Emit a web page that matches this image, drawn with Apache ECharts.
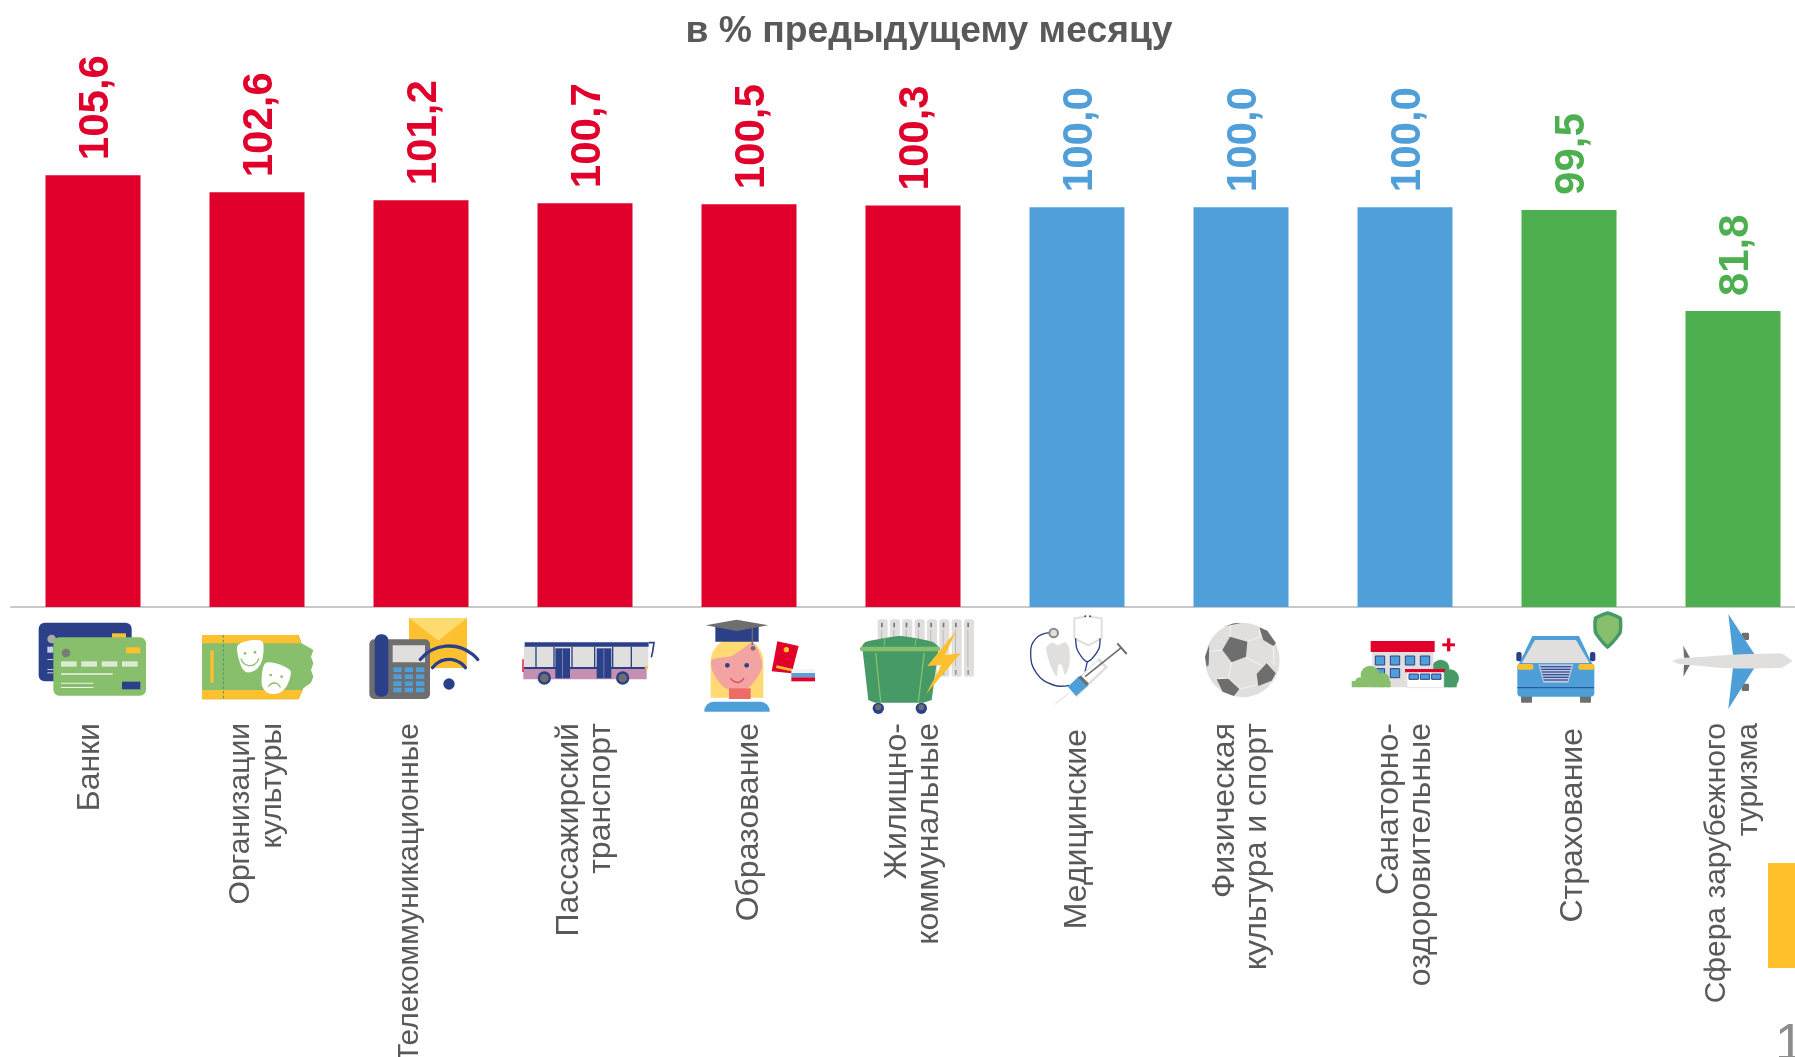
<!DOCTYPE html>
<html><head><meta charset="utf-8">
<style>html,body{margin:0;padding:0;background:#fff;overflow:hidden}#c{width:1795px;height:1057px}</style>
<script src="https://cdn.jsdelivr.net/npm/echarts@6/dist/echarts.min.js"></script>
</head><body><div id="c"></div>
<script>
const categories=['Банки','Организации\nкультуры','Телекоммуникационные','Пассажирский\nтранспорт','Образование','Жилищно-\nкоммунальные','Медицинские','Физическая\nкультура и спорт','Санаторно-\nоздоровительные','Страхование','Сфера зарубежного\nтуризма'];
const values=[105.6,102.6,101.2,100.7,100.5,100.3,100.0,100.0,100.0,99.5,81.8];
const colors=['#E1002B','#E1002B','#E1002B','#E1002B','#E1002B','#E1002B','#519FD8','#519FD8','#519FD8','#4EAF50','#4EAF50'];
const labelSizes=[32,30,30,32,32,32,32,32,32,32,30];
const labelPads=[[0,0,0,0],[0,0,0,0],[0,0,0,0],[0,0,0,0],[0,0,0,0],[0,0,0,0],[0,6,0,0],[0,0,0,0],[0,0,0,0],[0,5,0,0],[0,0,0,0]];
const labelNudges=[{verticalAlign:'bottom',lineHeight:5},{},{verticalAlign:'bottom',lineHeight:23},{},{},{},{},{},{},{verticalAlign:'top',lineHeight:9},{}];

const NAVY='#2B4089',GRN='#88BF6D',DGRN='#469A65',YEL='#FDC02F',GRY='#6E6E6E',LGR='#E0DFDD',BLU='#4E9FD8',RED='#E1002B',WHT='#FFFFFF';
const R=(x,y,w,h,c,r,st)=>({type:'rect',shape:{x,y,width:w,height:h,r:r||0},style:{fill:c,stroke:st||null,lineWidth:st?3:0}});
const C=(cx,cy,r,c)=>({type:'circle',shape:{cx,cy,r},style:{fill:c}});
const P=(pts,c,sm)=>({type:'polygon',shape:{points:pts,smooth:sm||0},style:{fill:c}});
const L=(pts,c,w,sm,dash)=>({type:'polyline',shape:{points:pts,smooth:sm||0},style:{fill:null,stroke:c,lineWidth:w,lineDash:dash||null}});
const A=(cx,cy,r,s,e,c,w,cw)=>({type:'arc',shape:{cx,cy,r,startAngle:s,endAngle:e,clockwise:cw!==false},style:{fill:null,stroke:c,lineWidth:w,lineCap:'round'}});
const PI=Math.PI;
const grp=(x,y,children)=>({type:'group',x,y,scaleX:1/3,scaleY:1/3,silent:true,children});

const iconCards=[R(26,38,279,176,NAVY,18),R(246,70,42,15,YEL),C(65,87,13,'#A9A9A9'),R(52,110,18,18,'#C9D0E3'),R(52,147,18,3,'#C9D0E3'),R(52,177,18,3,'#C9D0E3'),R(52,187,18,3,'#C9D0E3'),
 R(70,82,278,175,GRN,18),R(288,112,43,18,YEL),C(108,129,13,'#7A7A7A'),R(93,154,47,16,'#DCEAD2'),R(154,154,47,16,'#DCEAD2'),R(215,154,47,16,'#DCEAD2'),R(276,154,47,16,'#DCEAD2'),R(93,190,155,4,'#EDF3E8'),R(93,218,97,3,'#EDF3E8'),R(93,231,97,3,'#EDF3E8'),R(276,215,55,23,NAVY)];
const iconTicket=[P([[516,75],[806,75],[815,100],[850,120],[843,140],[850,160],[843,180],[850,200],[843,218],[820,235],[806,268],[516,268]],GRN),
 P([[516,75],[806,75],[813,100],[516,100]],YEL),P([[516,240],[818,240],[806,268],[516,268]],YEL),L([[580,75],[580,268]],DGRN,3,0,[8,6]),R(541,122,10,96,YEL),
 P([[624,105],[695,93],[698,145],[680,178],[650,187],[632,165]],WHT,0.3),C(645,130,4,GRN),C(675,127,4,GRN),A(660,140,27,0.25,PI-0.25,GRN,4),
 P([[708,158],[780,180],[772,225],[745,250],[712,248],[695,222]],WHT,0.3),C(722,195,4,GRN),C(755,200,4,GRN),A(733,238,19,PI+0.5,-0.4,GRN,4)];
const iconPhone=[R(1137,24,174,150,YEL),P([[1137,24],[1311,24],[1225,92]],'#FEDB6E'),R(1018,88,182,179,GRY,15),R(1034,73,41,187,NAVY,18),R(1088,106,97,51,LGR),
 ...[172,193,214,233].flatMap(y=>[1090,1124,1158].map(x=>R(x,y,25,14,BLU))),
 A(1257,220,112,-PI*0.78,-PI*0.22,NAVY,10),A(1257,209,61,-PI*0.8,-PI*0.2,NAVY,10),C(1257,222,17,NAVY)];
const iconBus=[R(42,108,373,66,LGR),R(44,97,372,13,NAVY),R(40,176,370,32,'#C48FB0'),R(42,171,370,6,NAVY),R(37,148,4,38,RED),
 R(76,110,4,62,NAVY),R(130,110,4,62,NAVY),R(184,110,4,62,NAVY),R(252,110,4,62,NAVY),R(306,110,4,62,NAVY),R(362,110,4,62,NAVY),
 R(136,115,44,90,NAVY),R(260,115,44,90,NAVY),R(156,118,3,85,'#6F7FB0'),R(280,118,3,85,'#6F7FB0'),
 C(103,204,20,NAVY),C(103,204,13,GRY),C(338,204,20,NAVY),C(338,204,13,GRY),L([[416,98],[432,98],[428,125],[424,142]],NAVY,5),C(409,173,5,YEL)];
const iconStudent=[R(602,85,158,178,'#FFD971',[70,70,0,0]),
 P([[605,150],[665,138],[700,115],[730,98],[755,150],[755,178],[722,228],[680,245],[640,230],[610,190]],'#F4A3A3',0.25),
 R(657,235,65,32,'#EE6B66'),R(583,275,196,30,BLU,[28,28,0,0]),R(616,50,130,45,NAVY),P([[587,46],[680,29],[775,46],[680,63]],GRY),L([[727,55],[727,105]],GRY,4),C(729,115,7,GRY),
 C(652,166,7,NAVY),C(710,166,7,NAVY),A(682,195,22,0.5,PI-0.5,'#E5404F',4),
 P([[802,94],[866,108],[845,190],[785,184]],RED),C(829,119,8,YEL),P([[800,166],[846,176],[844,184],[798,174]],YEL),
 R(844,177,71,12,'#F4F4F4'),R(844,189,71,13,'#5AA2DC'),R(844,202,71,12,RED)];
const iconBin=[...[0,1,2,3,4,5,6,7].map(i=>R(1103+i*37,28,30,172,LGR,8)),...[0,1,2,3,4,5,6,7].map(i=>R(1113+i*37,38,5,14,'#777')),...[0,1,2,3,4,5,6,7].map(i=>R(1113+i*37,180,5,14,'#999')),...[0,1,2,3,4,5,6,7].map(i=>R(1113+i*37,60,3,110,'#BBB')),
 P([[1058,122],[1285,122],[1265,270],[1240,278],[1095,278],[1075,270]],DGRN),P([[1055,115],[1065,97],[1120,85],[1170,78],[1220,85],[1270,97],[1288,115]],DGRN,0.2),
 R(1050,110,240,14,GRN,6),L([[1122,108],[1125,85]],GRN,3),L([[1215,108],[1218,85]],GRN,3),L([[1097,128],[1112,275]],GRN,4),L([[1243,128],[1225,275]],GRN,4),
 C(1105,295,17,NAVY),C(1105,292,9,GRY),C(1234,295,17,NAVY),C(1234,292,9,GRY),
 P([[1340,60],[1252,168],[1295,165],[1248,252],[1352,130],[1305,135]],YEL)];
const iconMed=[P([[108,115],[125,98],[145,105],[165,96],[178,115],[178,165],[165,195],[155,165],[145,165],[140,200],[125,175]],LGR,0.25),
 L([[118,68],[78,85],[62,130],[80,190],[130,225],[178,226]],NAVY,4,0.45),C(131,69,16,'#8A8A8A'),C(131,69,10,LGR),
 L([[225,20],[193,25],[193,85],[235,106],[275,85],[275,25],[240,20]],LGR,6),L([[197,85],[202,120],[232,155],[266,118],[270,85]],NAVY,4,0.3),L([[232,155],[225,185]],NAVY,4),C(226,19,3,NAVY),C(240,19,3,NAVY),
 P([[268,143],[294,172],[200,262],[175,232]],LGR),P([[262,152],[284,172],[205,246],[186,228]],WHT),P([[207,198],[235,226],[198,258],[174,230]],BLU),L([[209,200],[233,224]],GRY,10),
 L([[225,200],[335,112]],GRY,5),L([[322,100],[350,132]],GRY,6),L([[175,250],[135,283]],'#D8D8D8',3)];
const iconBall=[C(697,150,112,LGR),L([[712,95],[750,80],[748,52]],WHT,2),L([[660,80],[662,45]],WHT,2),L([[637,120],[598,125]],WHT,2),L([[665,157],[655,205],[625,205]],WHT,2),L([[708,142],[760,170]],WHT,2),L([[655,205],[690,237],[740,225]],WHT,2),L([[790,108],[792,165]],WHT,2),L([[672,258],[690,262]],WHT,2),L([[780,215],[790,235]],WHT,2),
 P([[660,80],[712,95],[708,140],[665,157],[637,120]],GRY),P([[770,160],[797,190],[785,212],[745,228],[740,192]],GRY),P([[620,208],[655,206],[688,237],[672,258],[638,245]],GRY),P([[748,52],[772,62],[798,100],[790,108],[760,90]],GRY),P([[598,104],[585,140],[590,170],[596,165]],GRY),P([[640,50],[672,40],[695,39],[660,46]],GRY)];
const iconSan=[C(437,175,26,DGRN),C(465,205,27,DGRN),R(415,200,70,32,DGRN),R(232,125,183,107,LGR),R(227,93,192,33,RED),
 ...[241,286,331,376].map(x=>R(x,138,28,27,BLU,0,NAVY)),R(241,176,28,27,BLU,0,NAVY),R(286,176,28,27,BLU,0,NAVY),
 C(225,195,28,GRN),C(195,217,15,GRN),C(262,210,22,GRN),R(170,213,117,19,GRN,[0,0,2,2]),
 R(336,185,110,48,WHT,0,'#E6E6E6'),R(330,177,120,10,RED),R(342,192,28,16,BLU,0,NAVY),R(376,192,28,16,BLU,0,NAVY),R(410,192,28,16,BLU,0,NAVY),R(442,100,38,9,RED),R(456,85,10,39,RED)];
const iconCar=[R(664,126,16,28,NAVY,6),R(885,126,16,28,NAVY,6),P([[712,78],[852,78],[892,162],[672,162]],BLU),P([[720,90],[843,90],[884,160],[680,160]],LGR),
 R(678,256,33,22,GRY,3),R(855,256,33,22,GRY,3),R(667,160,231,100,BLU,12),R(667,162,48,17,YEL,6),R(850,162,48,17,YEL,6),
 P([[730,163],[835,163],[820,218],[745,218]],'#B9C6DE'),...[170,178,186,194,202,210].map(y=>L([[735+(y-165)*0.25,y],[830-(y-165)*0.25,y]],'#3E5196',4)),R(667,231,230,4,'#2B5B9E'),
 P([[938,4],[980,22],[980,70],[938,117],[897,70],[897,22]],DGRN,0.15),P([[938,15],[970,28],[970,66],[938,103],[907,66],[907,28]],GRN,0.15)];
const iconPlane=[R(1340,68,22,22,GRY,4),R(1340,221,22,22,GRY,4),P([[1300,12],[1378,132],[1314,136]],BLU),P([[1314,172],[1378,174],[1300,297]],BLU),
 P([[1165,107],[1185,143],[1167,143]],GRY),P([[1165,200],[1185,164],[1167,164]],GRY),
 P([[1132,153],[1150,146],[1300,135],[1460,131],[1492,152],[1460,173],[1300,175],[1150,161]],LGR,0.1)];

const chart=echarts.init(document.getElementById('c'));
chart.setOption({
 animation:false,
 title:{text:'в % предыдущему месяцу',left:924,top:8,textAlign:'center',textStyle:{fontFamily:'Liberation Sans',fontSize:37.3,fontWeight:'bold',color:'#595959'}},
 grid:{left:11,top:150,width:1804,height:457,outerBoundsMode:'none',containLabel:false},
 xAxis:{type:'category',data:categories.map((c,i)=>({value:c,textStyle:{fontSize:labelSizes[i],padding:labelPads[i],...labelNudges[i]}})),axisTick:{show:false},axisLine:{lineStyle:{color:'#C9C9C9',width:2}},
  axisLabel:{rotate:90,margin:116,interval:0,fontFamily:'Liberation Sans',fontSize:32,lineHeight:32,color:'#595959',align:'right',verticalAlign:'middle',hideOverlap:false}},
 yAxis:{type:'value',min:30,max:110,show:false,splitLine:{show:false}},
 series:[{type:'bar',barWidth:95,data:values.map((v,i)=>({value:v,itemStyle:{color:colors[i]},label:{color:colors[i]}})),
  label:{show:true,position:'top',rotate:90,distance:15,offset:[0,3.5],align:'left',verticalAlign:'middle',fontFamily:'Liberation Sans',fontSize:42,fontWeight:'bold',formatter:p=>p.value.toFixed(1).replace('.',',')}}],
 graphic:{elements:[
  grp(30,610,[...iconCards,...iconTicket,...iconPhone]),
  grp(510,610,[...iconBus,...iconStudent,...iconBin]),
  grp(1010,610,[...iconMed,...iconBall]),
  grp(1295,610,[...iconSan,...iconCar,...iconPlane]),
  {type:'rect',silent:true,shape:{x:1768,y:863,width:27,height:105},style:{fill:'#FFC02B'}},
  {type:'text',silent:true,x:1775,y:1020,style:{text:'1',fill:'#8C8C8C',font:'52px "Liberation Sans"'}}
 ]}
});
</script></body></html>
